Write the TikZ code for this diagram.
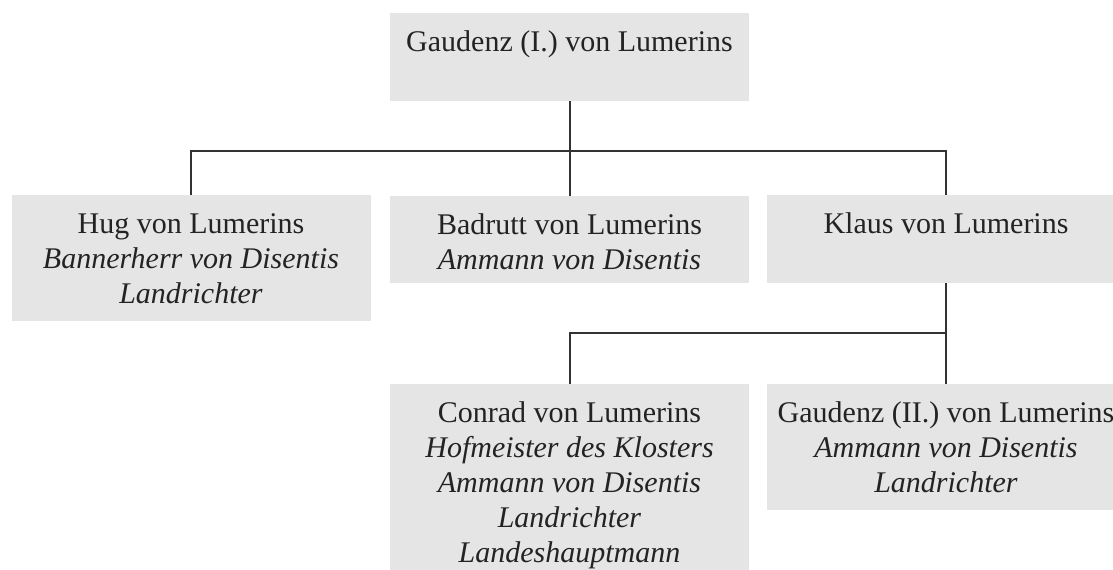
\documentclass[tikz,border=0pt]{standalone}
\usepackage{fontspec}
\setmainfont{Liberation Serif}
\usetikzlibrary{calc}
\definecolor{boxgray}{RGB}{229,229,229}
\definecolor{linegray}{RGB}{50,50,50}
\definecolor{txtgray}{RGB}{35,35,35}
\newcommand\boxlines[1]{\parbox[t]{350pt}{\centering #1}}
\begin{document}
\begin{tikzpicture}[x=0.75pt,y=-0.75pt,
  box/.style={fill=boxgray, draw=none, inner sep=0pt, minimum width=269.25pt},
  txt/.style={anchor=base, inner sep=0pt, text=txtgray, font=\fontsize{22.5pt}{26.25pt}\selectfont},
  conn/.style={draw=linegray, line width=1.5pt}]
\useasboundingbox (0,0) rectangle (1113,570);
\begin{scope}
\clip (0,0) rectangle (1113,570);
% boxes
\node[box, minimum height=66pt]    (top)   at (569.5,57)    {};
\node[box, minimum height=94.5pt]  (hug)   at (191,258)     {};
\node[box, minimum height=65.25pt] (bad)   at (569.5,239.5) {};
\node[box, minimum height=66pt]    (klaus) at (946,239)     {};
\node[box, minimum height=141pt]   (con)   at (569.5,478)   {};
\node[box, minimum height=94.5pt]  (gau)   at (946,447)     {};
% texts
\node[txt] (topT)   at ($(top.north)+(0,39)$)   {\boxlines{Gaudenz (I.) von Lumerins}};
\node[txt] (hugT)   at ($(hug.north)+(0,39)$)   {\boxlines{Hug von Lumerins\\\textit{Bannerherr von Disentis}\\\textit{Landrichter}}};
\node[txt] (badT)   at ($(bad.north)+(0,39)$)   {\boxlines{Badrutt von Lumerins\\\textit{Ammann von Disentis}}};
\node[txt] (klausT) at ($(klaus.north)+(0,39)$) {\boxlines{Klaus von Lumerins}};
\node[txt] (conT)   at ($(con.north)+(0,39)$)   {\boxlines{Conrad von Lumerins\\\textit{Hofmeister des Klosters}\\\textit{Ammann von Disentis}\\\textit{Landrichter}\\\textit{Landeshauptmann}}};
\node[txt] (gauT)   at ($(gau.north)+(0,39)$)   {\boxlines{Gaudenz (II.) von Lumerins\\\textit{Ammann von Disentis}\\\textit{Landrichter}}};
% connectors
\coordinate (j1) at (569.5,151);
\coordinate (j2) at (946,333);
\draw[conn] (top.south) -- (j1);
\draw[conn] (hug.north) |- (j1);
\draw[conn] (bad.north) -- (j1);
\draw[conn] (klaus.north) |- (j1);
\draw[conn] (klaus.south) -- (j2);
\draw[conn] (j2) -- (gau.north);
\draw[conn] (con.north) |- (j2);
\end{scope}
\end{tikzpicture}
\end{document}
